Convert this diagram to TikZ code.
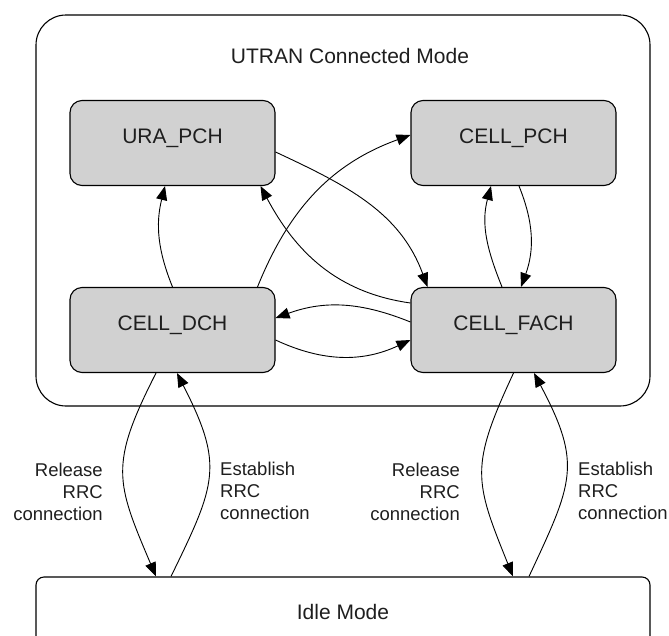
\documentclass[tikz,border=0pt]{standalone}
\usepackage{fontspec}
\setmainfont{Liberation Sans}
\usetikzlibrary{arrows.meta}
\definecolor{boxgray}{RGB}{209,209,209}
\definecolor{inkgray}{RGB}{30,30,30}
\begin{document}
\begin{tikzpicture}[x=1pt,y=1pt,
  statebox/.style={draw=black, line width=1.1pt, fill=boxgray, rounded corners=12pt,
    minimum width=205pt, minimum height=85pt, inner sep=0pt},
  boxlabel/.style={anchor=base, inner sep=0pt, text=inkgray, font=\fontsize{21}{25}\selectfont},
  modebox/.style={draw=black, line width=1.1pt, inner sep=0pt, minimum width=614pt},
  edgelabel/.style={inner sep=0pt, text=inkgray, font=\fontsize{18.5}{21.7}\selectfont},
  trans/.style={line width=0.9pt, -{Triangle[length=14pt,width=11pt]}}
]
\useasboundingbox (0,0) rectangle (669,-635);
\clip (0,0) rectangle (669,-635);

% connected mode container
\node[modebox, rounded corners=30pt, minimum height=391pt] (utran) at (343,-210.5) {};
\node[font=\fontsize{21}{25}\selectfont, text=inkgray, anchor=base, inner sep=0pt] (utranlabel) at (350,-63) {UTRAN Connected Mode};

% states
\node[statebox] (ura) at (172.5,-143) {};
\node[boxlabel] (uralabel) at (ura.center) {URA\_PCH};
\node[statebox] (pch) at (513.5,-143) {};
\node[boxlabel] (pchlabel) at (pch.center) {CELL\_PCH};
\node[statebox] (dch) at (172.5,-330) {};
\node[boxlabel] (dchlabel) at (dch.center) {CELL\_DCH};
\node[statebox] (fach) at (513.5,-330) {};
\node[boxlabel] (fachlabel) at (fach.center) {CELL\_FACH};

% idle mode (runs off the bottom edge)
\node[modebox, rounded corners=8pt, minimum height=70pt, text=inkgray, font=\fontsize{21}{25}\selectfont] (idle) at (343,-612) {Idle Mode};

% transitions inside connected mode
\draw[trans] (dch.north) to[out=112,in=-104] ([xshift=-7.5pt]ura.south);
\draw[trans] ([xshift=85pt]dch.north) to[out=68,in=200] ([yshift=8pt]pch.west);
\draw[trans] ([yshift=-9pt]ura.east) to[out=-25,in=110] ([xshift=-86pt]fach.north);
\draw[trans] ([yshift=27pt]fach.west) to[out=172,in=-62] ([xshift=88pt]ura.south);
\draw[trans] ([yshift=8pt]fach.west) to[out=158,in=20] ([yshift=12pt]dch.east);
\draw[trans] ([yshift=-10pt]dch.east) to[out=-25,in=205] ([yshift=-10pt]fach.west);
\draw[trans] ([xshift=-11.5pt]fach.north) to[out=112,in=-105] ([xshift=-22.5pt]pch.south);
\draw[trans] ([xshift=5.5pt]pch.south) to[out=-68,in=70] ([xshift=7.5pt]fach.north);

% transitions to and from idle mode
\draw[trans] ([xshift=-16.5pt]dch.south) to[out=-117,in=113,looseness=1.3] ([xshift=-187pt]idle.north);
\draw[trans] ([xshift=-172pt]idle.north) to[out=64,in=-63,looseness=1.3] ([xshift=4.5pt]dch.south);
\draw[trans] (fach.south) to[out=-115,in=112,looseness=1.3] ([xshift=170pt]idle.north);
\draw[trans] ([xshift=186pt]idle.north) to[out=65,in=-62,looseness=1.3] ([xshift=20.5pt]fach.south);

% transition labels
\node[edgelabel, align=right, anchor=east] (rel1) at (103,-492) {Release\\RRC\\connection};
\node[edgelabel, align=left, anchor=west] (est1) at (220,-491) {Establish\\RRC\\connection};
\node[edgelabel, align=right, anchor=east] (rel2) at (460,-492) {Release\\RRC\\connection};
\node[edgelabel, align=left, anchor=west] (est2) at (578,-491) {Establish\\RRC\\connection};
\end{tikzpicture}
\end{document}
